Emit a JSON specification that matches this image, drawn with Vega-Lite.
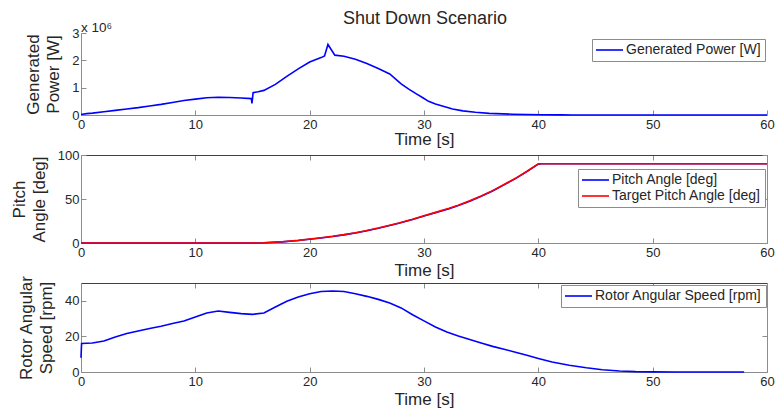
{
  "$schema": "https://vega.github.io/schema/vega-lite/v6.json",
  "padding": {"left": 10, "top": 9, "right": 0, "bottom": 0},
  "background": "white",
  "title": {
    "text": "Shut Down Scenario",
    "anchor": "start",
    "frame": "group",
    "dx": 262,
    "offset": -7,
    "fontSize": 18,
    "fontWeight": "normal",
    "font": "Liberation Sans",
    "color": "#262626"
  },
  "bounds": "flush",
  "spacing": 40,
  "resolve": {"scale": {"color": "independent"}},
  "datasets": {
    "power": [
      {"t": 0, "power": 20000}, {"t": 0.5, "power": 50000}, {"t": 1, "power": 70000},
      {"t": 2, "power": 120000}, {"t": 3, "power": 170000}, {"t": 4, "power": 220000},
      {"t": 5, "power": 270000}, {"t": 6, "power": 330000}, {"t": 7, "power": 390000},
      {"t": 8, "power": 460000}, {"t": 9, "power": 530000}, {"t": 10, "power": 580000},
      {"t": 11, "power": 630000}, {"t": 12, "power": 650000}, {"t": 13, "power": 640000},
      {"t": 14, "power": 620000}, {"t": 14.9, "power": 600000}, {"t": 14.95, "power": 420000},
      {"t": 15.0, "power": 600000}, {"t": 15.05, "power": 820000}, {"t": 15.5, "power": 850000},
      {"t": 16, "power": 900000}, {"t": 17, "power": 1120000}, {"t": 18, "power": 1410000},
      {"t": 19, "power": 1690000}, {"t": 20, "power": 1940000}, {"t": 21, "power": 2100000},
      {"t": 21.3, "power": 2160000}, {"t": 21.6, "power": 2580000}, {"t": 22.2, "power": 2190000},
      {"t": 23, "power": 2150000}, {"t": 24, "power": 2040000}, {"t": 25, "power": 1880000},
      {"t": 26, "power": 1700000}, {"t": 27, "power": 1500000}, {"t": 27.5, "power": 1320000},
      {"t": 28, "power": 1140000}, {"t": 28.7, "power": 940000}, {"t": 29.3, "power": 780000},
      {"t": 29.9, "power": 630000}, {"t": 30.4, "power": 500000}, {"t": 31, "power": 400000},
      {"t": 31.9, "power": 290000}, {"t": 32.5, "power": 220000}, {"t": 33.4, "power": 150000},
      {"t": 34.5, "power": 100000}, {"t": 35.7, "power": 60000}, {"t": 37.7, "power": 30000},
      {"t": 40.3, "power": 10000}, {"t": 42, "power": 5000}, {"t": 43, "power": 0},
      {"t": 50, "power": 0}, {"t": 60, "power": 0}
    ],
    "pitch": [
      {"t": 0, "angle": 0}, {"t": 15, "angle": 0}, {"t": 16, "angle": 0.2}, {"t": 17.6, "angle": 1.3},
      {"t": 19, "angle": 2.8}, {"t": 20, "angle": 4.2}, {"t": 21, "angle": 5.7}, {"t": 22, "angle": 7.3},
      {"t": 23, "angle": 9.2}, {"t": 24, "angle": 11.4}, {"t": 24.9, "angle": 13.7}, {"t": 26, "angle": 16.7},
      {"t": 27, "angle": 19.9}, {"t": 27.8, "angle": 22.4}, {"t": 29, "angle": 26.7}, {"t": 30, "angle": 30.6},
      {"t": 31, "angle": 34.4}, {"t": 32.2, "angle": 39}, {"t": 33, "angle": 42.6}, {"t": 34, "angle": 47.5},
      {"t": 35, "angle": 53.1}, {"t": 36, "angle": 59.1}, {"t": 37, "angle": 66.1}, {"t": 38, "angle": 73.1},
      {"t": 39, "angle": 81.1}, {"t": 40, "angle": 89.6}, {"t": 40.3, "angle": 90}, {"t": 60, "angle": 90}
    ],
    "target": [
      {"t": 0, "angle": 0}, {"t": 15, "angle": 0}, {"t": 16, "angle": 0.3}, {"t": 17.6, "angle": 1.5},
      {"t": 19, "angle": 3}, {"t": 20, "angle": 4.5}, {"t": 21, "angle": 6}, {"t": 22, "angle": 7.6},
      {"t": 23, "angle": 9.5}, {"t": 24, "angle": 11.7}, {"t": 24.9, "angle": 14}, {"t": 26, "angle": 17},
      {"t": 27, "angle": 20.2}, {"t": 27.8, "angle": 22.7}, {"t": 29, "angle": 27}, {"t": 30, "angle": 31},
      {"t": 31, "angle": 34.8}, {"t": 32.2, "angle": 39.4}, {"t": 33, "angle": 43}, {"t": 34, "angle": 48},
      {"t": 35, "angle": 53.5}, {"t": 36, "angle": 59.5}, {"t": 37, "angle": 66.5}, {"t": 38, "angle": 73.5},
      {"t": 39, "angle": 81.5}, {"t": 40, "angle": 90}, {"t": 60, "angle": 90}
    ],
    "speed": [
      {"t": 0, "rpm": 8}, {"t": 0.05, "rpm": 16}, {"t": 1, "rpm": 16.3}, {"t": 2, "rpm": 17.4},
      {"t": 3, "rpm": 19.7}, {"t": 4, "rpm": 21.6}, {"t": 5, "rpm": 23.0}, {"t": 6, "rpm": 24.4},
      {"t": 7, "rpm": 25.7}, {"t": 8, "rpm": 27.2}, {"t": 9, "rpm": 28.7}, {"t": 10, "rpm": 30.9},
      {"t": 11, "rpm": 33.1}, {"t": 12, "rpm": 34.3}, {"t": 13, "rpm": 33.5}, {"t": 14, "rpm": 32.8},
      {"t": 15, "rpm": 32.4}, {"t": 16, "rpm": 33.1}, {"t": 17, "rpm": 36.5}, {"t": 18, "rpm": 39.7},
      {"t": 19, "rpm": 42.1}, {"t": 20, "rpm": 44.0}, {"t": 21, "rpm": 45.2}, {"t": 22, "rpm": 45.5},
      {"t": 23, "rpm": 45.2}, {"t": 24, "rpm": 44.0}, {"t": 25, "rpm": 42.5}, {"t": 26, "rpm": 40.8},
      {"t": 27, "rpm": 38.8}, {"t": 28, "rpm": 36.0}, {"t": 29, "rpm": 32.2}, {"t": 30, "rpm": 28.7},
      {"t": 31, "rpm": 25.3}, {"t": 32, "rpm": 22.5}, {"t": 33, "rpm": 20.2}, {"t": 34, "rpm": 18.2},
      {"t": 35, "rpm": 16.3}, {"t": 36, "rpm": 14.4}, {"t": 37, "rpm": 12.8}, {"t": 38, "rpm": 11.1},
      {"t": 39, "rpm": 9.4}, {"t": 40, "rpm": 7.6}, {"t": 41.2, "rpm": 5.6}, {"t": 42.7, "rpm": 3.8},
      {"t": 44.2, "rpm": 2.4}, {"t": 45.6, "rpm": 1.3}, {"t": 47.1, "rpm": 0.6}, {"t": 48.5, "rpm": 0.2},
      {"t": 50, "rpm": 0.05}, {"t": 52, "rpm": 0}, {"t": 58, "rpm": 0}
    ]
  },
  "vconcat": [
    {
      "width": 686,
      "height": 82,
      "title": {"text": "x 10⁶", "anchor": "start", "frame": "group", "fontSize": 13.5, "fontWeight": "normal", "offset": -7, "color": "#262626", "font": "Liberation Sans"},
      "data": {"name": "power"},
      "mark": {"type": "line", "strokeWidth": 1.6},
      "encoding": {
        "x": {"field": "t", "type": "quantitative", "scale": {"domain": [0, 60], "nice": false},
              "axis": {"title": "Time [s]", "titlePadding": 0.5, "values": [0, 10, 20, 30, 40, 50, 60]}},
        "y": {"field": "power", "type": "quantitative", "scale": {"domain": [0, 3000000], "nice": false},
              "axis": {"title": ["Generated", "Power [W]"], "values": [0, 1000000, 2000000, 3000000], "labelExpr": "format(datum.value / 1000000, 'd')"}},
        "color": {"datum": "Generated Power [W]", "scale": {"range": ["#0000ff"]},
                  "legend": {"orient": "none", "legendX": 511, "legendY": 6}}
      }
    },
    {
      "width": 686,
      "height": 88,
      "resolve": {"axis": {"x": "independent", "y": "independent"}},
      "layer": [
        {
          "data": {"name": "pitch"},
          "mark": {"type": "line", "strokeWidth": 1.6},
          "encoding": {
            "x": {"field": "t", "type": "quantitative", "scale": {"domain": [0, 60], "nice": false},
                  "axis": {"title": "Time [s]", "titlePadding": 3.5, "values": [0, 10, 20, 30, 40, 50, 60]}},
            "y": {"field": "angle", "type": "quantitative", "scale": {"domain": [0, 100], "nice": false},
                  "axis": {"title": ["Pitch", "Angle [deg]"], "values": [0, 50, 100]}},
            "color": {"datum": "Pitch Angle [deg]"}
          }
        },
        {
          "data": {"name": "target"},
          "mark": {"type": "line", "strokeWidth": 1.6},
          "encoding": {
            "x": {"field": "t", "type": "quantitative",
                  "axis": {"orient": "top", "title": null, "labels": false, "values": [0, 10, 20, 30, 40, 50, 60], "domainColor": "#404040"}},
            "y": {"field": "angle", "type": "quantitative",
                  "axis": {"orient": "right", "title": null, "labels": false, "values": [0, 50, 100]}},
            "color": {"datum": "Target Pitch Angle [deg]",
                      "scale": {"domain": ["Pitch Angle [deg]", "Target Pitch Angle [deg]"], "range": ["#0000ff", "#ff0000"]},
                      "legend": {"orient": "none", "legendX": 497, "legendY": 14}}
          }
        }
      ]
    },
    {
      "width": 686,
      "height": 89,
      "data": {"name": "speed"},
      "resolve": {"axis": {"x": "independent", "y": "independent"}},
      "layer": [
        {
          "mark": {"type": "line", "strokeWidth": 1.6},
          "encoding": {
            "x": {"field": "t", "type": "quantitative", "scale": {"domain": [0, 60], "nice": false},
                  "axis": {"title": "Time [s]", "titlePadding": 3.5, "values": [0, 10, 20, 30, 40, 50, 60]}},
            "y": {"field": "rpm", "type": "quantitative", "scale": {"domain": [0, 50], "nice": false},
                  "axis": {"title": ["Rotor Angular", "Speed [rpm]"], "values": [0, 20, 40]}},
            "color": {"datum": "Rotor Angular Speed [rpm]", "scale": {"range": ["#0000ff"]},
                      "legend": {"orient": "none", "legendX": 480, "legendY": 2}}
          }
        },
        {
          "mark": {"type": "line", "strokeOpacity": 0},
          "encoding": {
            "x": {"field": "t", "type": "quantitative",
                  "axis": {"orient": "top", "title": null, "labels": false, "values": [0, 10, 20, 30, 40, 50, 60], "domainColor": "#404040"}},
            "y": {"field": "rpm", "type": "quantitative",
                  "axis": {"orient": "right", "title": null, "labels": false, "values": [0, 20, 40]}}
          }
        }
      ]
    }
  ],
  "config": {
    "font": "Liberation Sans",
    "view": {"stroke": null},
    "axis": {
      "grid": false,
      "domainColor": "#8c8c8c",
      "domainWidth": 1,
      "tickColor": "#8c8c8c",
      "tickSize": -5,
      "labelFont": "Liberation Sans",
      "labelFontSize": 13,
      "labelColor": "#262626",
      "titleFont": "Liberation Sans",
      "titleFontSize": 17,
      "titleFontWeight": "normal",
      "titleColor": "#262626",
      "titleLineHeight": 20
    },
    "axisX": {"labelPadding": 8, "labelFlush": false},
    "axisY": {"labelPadding": 7, "titlePadding": 9},
    "legend": {
      "title": null,
      "symbolType": "M-2.7,0H2.7",
      "symbolSize": 100,
      "symbolOffset": 6.5,
      "symbolStrokeWidth": 1.6,
      "symbolFillColor": "transparent",
      "labelFontSize": 14,
      "labelFont": "Liberation Sans",
      "labelColor": "#262626",
      "labelOffset": 9.5,
      "labelLimit": 300,
      "padding": 4,
      "rowPadding": 2,
      "fillColor": "white",
      "strokeColor": "#8c8c8c",
      "cornerRadius": 0
    }
  }
}
